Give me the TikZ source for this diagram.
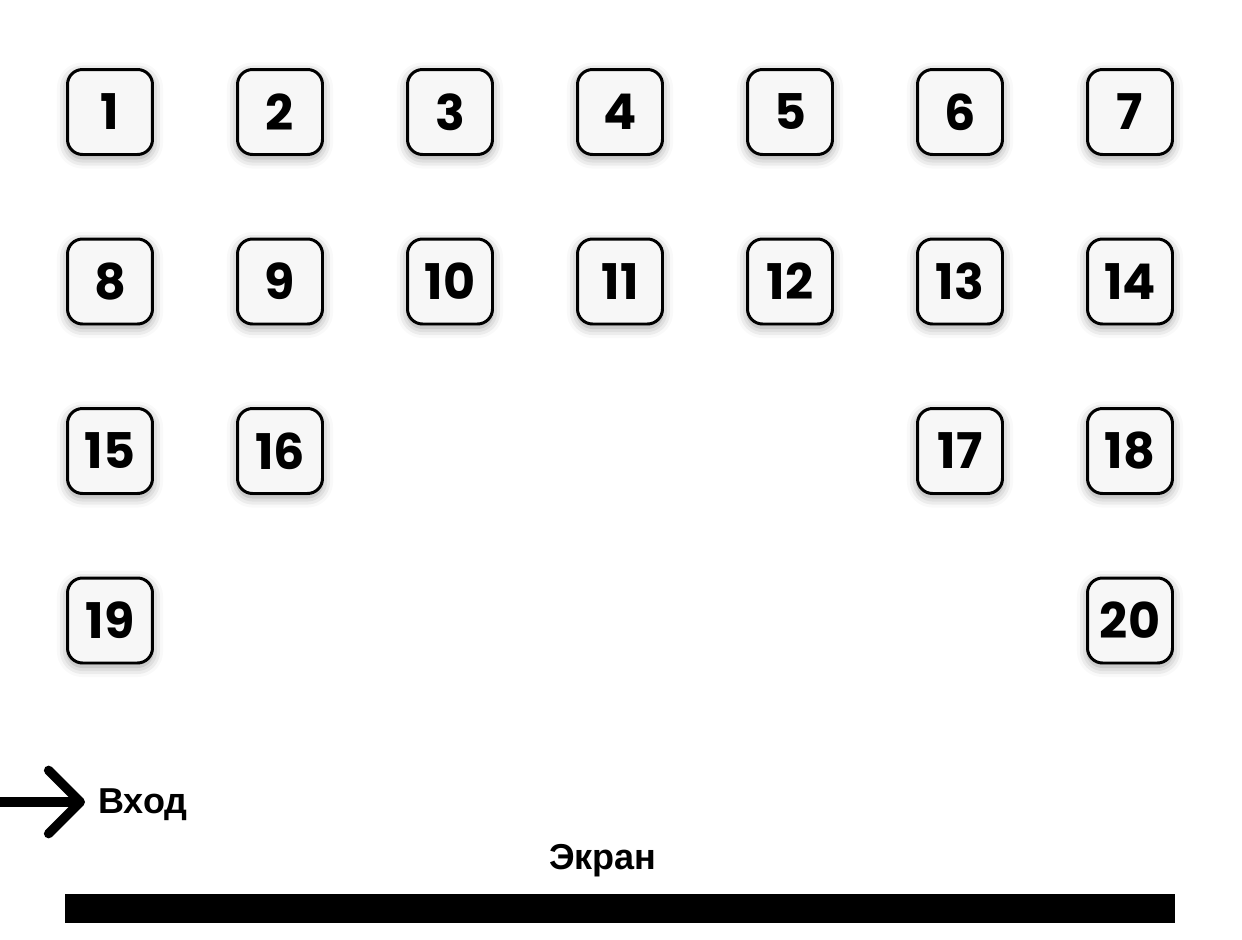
\documentclass[tikz,border=0pt]{standalone}
\usepackage{fontspec}
\setmainfont{Liberation Sans}
\newfontfamily\seatfont{Poppins}
\usetikzlibrary{arrows.meta, shadows.blur}
\definecolor{seatfill}{HTML}{F7F7F7}

\begin{document}
\begin{tikzpicture}[x=0.02cm, y=-0.02cm,
    seat/.style={draw=black, fill=seatfill, line width=1.7pt,
      rounded corners=0.3cm, minimum size=1.70cm, inner sep=0pt,
      font=\seatfont\bfseries\fontsize{28}{30}\selectfont,
      blur shadow={shadow xshift=0pt, shadow yshift=-2pt,
        shadow blur radius=6pt, shadow opacity=40}},
    sign/.style={font=\bfseries\fontsize{20.5}{23}\selectfont, inner sep=0pt}]
  \useasboundingbox (0,0) rectangle (1242,940);
  % seats: number / column / row
  \foreach \n/\c/\r in {1/1/1, 2/2/1, 3/3/1, 4/4/1, 5/5/1, 6/6/1, 7/7/1,
      8/1/2, 9/2/2, 10/3/2, 11/4/2, 12/5/2, 13/6/2, 14/7/2,
      15/1/3, 16/2/3, 17/6/3, 18/7/3, 19/1/4, 20/7/4}
    \node[seat] (s\n) at ({110+170*(\c-1)}, {112+169.5*(\r-1)}) {\raisebox{-1pt}{\n}};
  % entrance
  \coordinate (door) at (0,802);
  \coordinate (tip) at (85,802);
  \node[sign, anchor=west] (entry) at (98,805) {Вход};
  \draw[line width=5.4pt, line cap=round, line join=round,
    -{Straight Barb[length=18pt, width=36pt, line cap=round, line join=round]}]
    (door) -- (tip);
  % screen
  \node[sign] (label) at (603,861) {Экран};
  \fill (65,894) rectangle (1175,923);
\end{tikzpicture}
\end{document}
